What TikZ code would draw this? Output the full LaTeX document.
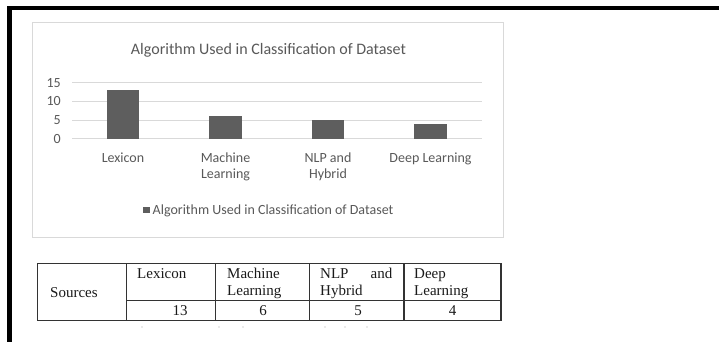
\documentclass[tikz,border=0pt]{standalone}
\usepackage{fontspec}
\setmainfont{Liberation Serif}
\newfontfamily\chartfont{Carlito}
\definecolor{txtgray}{HTML}{595959}
\definecolor{bargray}{HTML}{5E5E5E}
\definecolor{gridgray}{HTML}{D9D9D9}
\definecolor{tabline}{HTML}{333333}
\definecolor{tabtext}{HTML}{1A1A1A}
\begin{document}
\begin{tikzpicture}[x=1pt,y=-1pt,
  charttext/.style={font=\chartfont\fontsize{14}{16}\selectfont, text=txtgray, inner sep=0pt},
  ticklbl/.style={charttext, anchor=east},
  catlbl/.style={charttext, anchor=base},
  gridln/.style={draw=gridgray, line width=1pt},
  barbox/.style={fill=bargray, draw=none},
  tabtxt/.style={font=\fontsize{15}{17}\selectfont, text=tabtext, inner sep=0pt, anchor=base west},
  tabnum/.style={font=\fontsize{15}{17}\selectfont, text=tabtext, inner sep=0pt, anchor=base},
  tabrule/.style={draw=tabline, line width=1.3pt},
  speck/.style={fill=gray!70, draw=none}
]
\useasboundingbox (0,0) rectangle (719,342);
\fill[white] (0,0) rectangle (719,342);
% outer black frame (top and left)
\draw[line width=4.4pt, line cap=rect] (9.5,345) -- (9.5,8.3) -- (722,8.3);
% chart area
\draw[draw=gridgray, line width=1pt] (32,23) rectangle (503,237);
\node[charttext, font=\chartfont\fontsize{16}{18}\selectfont, anchor=base] (title) at (268.5,55) {Algorithm Used in Classification of Dataset};
% gridlines
\draw[gridln] (72,82.7) -- (482,82.7);
\draw[gridln] (72,101.4) -- (482,101.4);
\draw[gridln] (72,120.0) -- (482,120.0);
\draw[gridln] (72,138.7) -- (482,138.7);
\node[ticklbl] (t15) at (61,82.7) {15};
\node[ticklbl] (t10) at (61,101.4) {10};
\node[ticklbl] (t5) at (61,120.0) {5};
\node[ticklbl] (t0) at (61,138.7) {0};
% bars (3.733 px per unit)
\fill[barbox] (107,138.7) rectangle (139,90.2);
\fill[barbox] (209,138.7) rectangle (242,116.3);
\fill[barbox] (312,138.7) rectangle (344,120.0);
\fill[barbox] (414,138.7) rectangle (447,123.8);
% category labels
\node[catlbl] (cLex) at (123,162.3) {Lexicon};
\node[catlbl] (cML1) at (225.5,162.3) {Machine};
\node[catlbl] (cML2) at (225.5,178.8) {Learning};
\node[catlbl] (cNLP1) at (328,162.3) {NLP and};
\node[catlbl] (cNLP2) at (328,178.8) {Hybrid};
\node[catlbl] (cDL) at (430.5,162.3) {Deep Learning};
% legend
\fill[bargray] (143,206.7) rectangle (150,213.3);
\node[charttext, anchor=base west] (leg) at (152.5,214) {Algorithm Used in Classification of Dataset};
% table
\draw[tabrule] (37.7,263.3) -- (501,263.3);
\draw[tabrule] (126.7,300.7) -- (501,300.7);
\draw[tabrule] (37.7,320.7) -- (501,320.7);
\draw[tabrule] (37.7,263.3) -- (37.7,320.7);
\draw[tabrule] (126.7,263.3) -- (126.7,320.7);
\draw[tabrule] (215.7,263.3) -- (215.7,320.7);
\draw[tabrule] (309.3,263.3) -- (309.3,320.7);
\draw[tabrule] (404,263.3) -- (404,320.7);
\draw[tabrule] (501,263.3) -- (501,320.7);
\node[tabtxt] (hSrc) at (50,297.5) {Sources};
\node[tabtxt] (hLex) at (137,278.3) {Lexicon};
\node[tabtxt] (hML1) at (227,278.3) {Machine};
\node[tabtxt] (hML2) at (227,295.7) {Learning};
\node[tabtxt] (hNLP1) at (320,278.3) {NLP};
\node[tabtxt, anchor=base east] (hNLP2) at (392.5,278.3) {and};
\node[tabtxt] (hNLP3) at (320,295.7) {Hybrid};
\node[tabtxt] (hDL1) at (414,278.3) {Deep};
\node[tabtxt] (hDL2) at (414,295.7) {Learning};
\node[tabnum] (n13) at (180,315.7) {13};
\node[tabnum] (n6) at (263,315.7) {6};
\node[tabnum] (n5) at (358,315.7) {5};
\node[tabnum] (n4) at (452.5,315.7) {4};
% specks below table
\foreach \sx in {142,219,243,325,345,367} \fill[speck] (\sx,327) circle (0.6);
\end{tikzpicture}
\end{document}
